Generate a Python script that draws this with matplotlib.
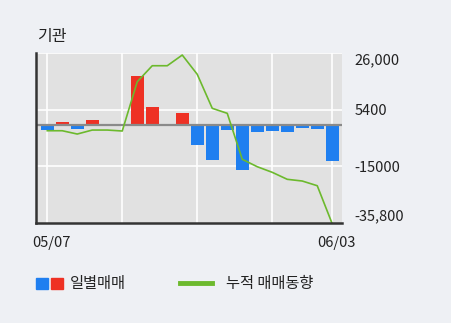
import matplotlib
matplotlib.use("Agg")
import matplotlib.pyplot as plt
import matplotlib.transforms as mtransforms
from matplotlib.patches import Rectangle
from matplotlib.lines import Line2D
import numpy as np

plt.rcParams['font.family'] = ['Noto Sans CJK KR', 'DejaVu Sans']

# ---- data ----
daily = [-2000, 900, -1400, 1750, 0, 0, 17700, 6600, 0, 4400,
         -7230, -12690, -1780, -16320, -2500, -2140, -2500, -1050, -1420, -13050]
cumulative = [-2150, -2150, -3350, -1900, -1900, -2250, 15670, 21480, 21480, 25370,
              18360, 6000, 4180, -12540, -15230, -17270, -19810, -20430, -22140, -36000]
x_tick_idx = [0, 19]
x_tick_labels = ['05/07', '06/03']
y_ticks = [26000, 5400, -15000, -35800]
y_tick_labels = ['26,000', '5400', '-15000', '-35,800']
title = '기관'
legend_bar = '일별매매'
legend_line = '누적 매매동향'

RED = '#ee3124'
BLUE = '#1f7ff0'
GREEN = '#6cb92d'
FIG_BG = '#eef0f4'
AX_BG = '#e1e1e1'

W, H = 451, 323
fig = plt.figure(figsize=(W / 100, H / 100), dpi=100, facecolor=FIG_BG)
ax = fig.add_axes([36 / W, 1 - 223.3 / H, (342 - 36) / W, (223.3 - 53.3) / H])
ax.set_facecolor(AX_BG)

x = np.arange(len(daily))
colors = [RED if v > 0 else BLUE for v in daily]
ax.bar(x, daily, width=0.87, color=colors, zorder=2)

# grid
for yv in y_ticks[:-1]:
    ax.axhline(yv, color='white', lw=1.2, zorder=1)
for xi in [0, 5, 10, 15, 19]:
    ax.axvline(xi, color='white', lw=1.2, zorder=1)
ax.axhline(0, color='#8a8a8a', lw=1.6, zorder=3)

ax.plot(x, cumulative, color=GREEN, lw=1.2, zorder=4, clip_on=True)

ax.set_xlim(-0.75, 19.65)
ax.set_ylim(-35800, 26000)

for s in ['top', 'right']:
    ax.spines[s].set_visible(False)
for s in ['left', 'bottom']:
    ax.spines[s].set_color('#333333')
    ax.spines[s].set_linewidth(1.8)
    ax.spines[s].set_zorder(5)

ax.yaxis.tick_right()
ax.set_yticks(y_ticks)
ax.set_yticklabels(y_tick_labels)
ax.tick_params(axis='y', length=0, pad=9, labelsize=10.5, colors='#222222')
ax.set_xticks(x_tick_idx)
ax.set_xticklabels(x_tick_labels)
ax.tick_params(axis='x', length=0, pad=9, labelsize=10.5, colors='#222222')

labels = ax.get_yticklabels()
labels[0].set_transform(labels[0].get_transform() + mtransforms.ScaledTranslation(0, -5 / 100, fig.dpi_scale_trans))
labels[-1].set_transform(labels[-1].get_transform() + mtransforms.ScaledTranslation(0, 8.5 / 100, fig.dpi_scale_trans))
xl = ax.get_xticklabels()
xl[0].set_transform(xl[0].get_transform() + mtransforms.ScaledTranslation(4 / 100, 0, fig.dpi_scale_trans))
xl[1].set_transform(xl[1].get_transform() + mtransforms.ScaledTranslation(4 / 100, 0, fig.dpi_scale_trans))

fig.text(37 / W, 1 - 37 / H, title, fontsize=11.5, color='#222222', va='center', ha='left')

# legend
fig.patches.append(Rectangle((36 / W, 1 - 289 / H), 11.5 / W, 11 / H, transform=fig.transFigure, color=BLUE))
fig.patches.append(Rectangle((51 / W, 1 - 289 / H), 11.5 / W, 11 / H, transform=fig.transFigure, color=RED))
fig.text(70 / W, 1 - 283.5 / H, legend_bar, fontsize=11, color='#222222', va='center', ha='left')
fig.lines.append(Line2D([180 / W, 211.7 / W], [1 - 283.3 / H, 1 - 283.3 / H], transform=fig.transFigure, color=GREEN, lw=3.5))
fig.text(226 / W, 1 - 283.5 / H, legend_line, fontsize=11, color='#222222', va='center', ha='left')

fig.savefig('out.png', dpi=100, facecolor=FIG_BG)
